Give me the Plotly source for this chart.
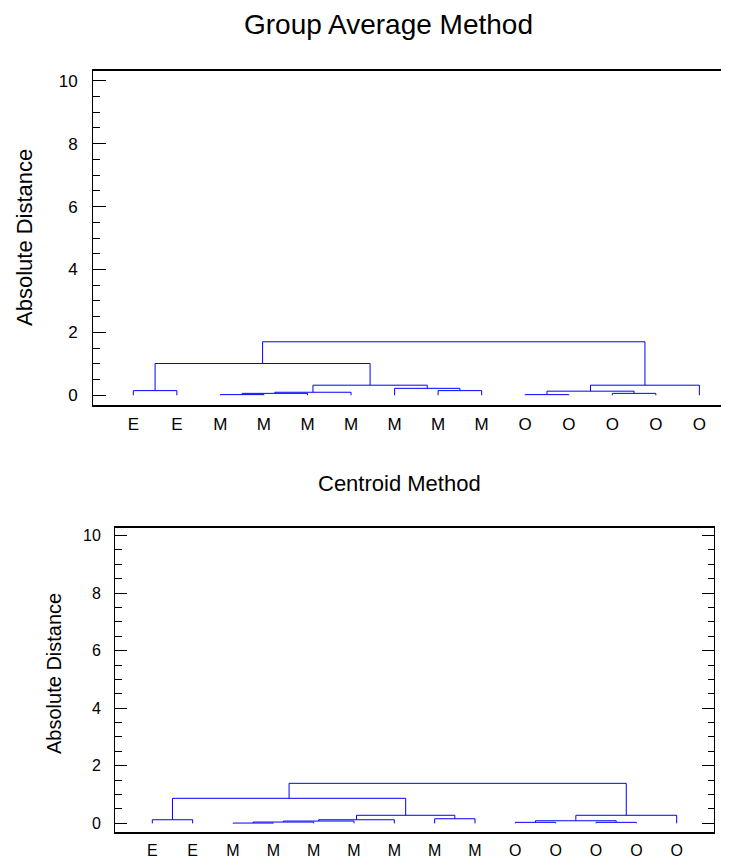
import plotly.graph_objects as go

# The page body has an 8px default margin; the figure is sized/offset for it.
OFF = 8
W, H = 729 - OFF, 859 - OFF

# ---------------- data ----------------
leaf_labels = ["E", "E", "M", "M", "M", "M", "M", "M", "M", "O", "O", "O", "O", "O"]

# linkage rows: (child_a, child_b, height); new cluster ids start at 14
group_avg_a = [2, 9, 14, 11, 16, 15, 0, 7, 6, 18, 19, 20, 25]
group_avg_b = [3, 10, 4, 12, 5, 17, 1, 8, 21, 22, 13, 23, 24]
group_avg_h = [0.02, 0.02, 0.06, 0.06, 0.095, 0.13, 0.147, 0.147, 0.22, 0.32, 0.32, 1.01, 1.70]

centroid_a = [2, 9, 11, 14, 17, 15, 0, 18, 7, 21, 19, 20, 25]
centroid_b = [3, 10, 12, 4, 5, 16, 1, 6, 8, 22, 13, 23, 24]
centroid_h = [0.01, 0.035, 0.035, 0.045, 0.08, 0.09, 0.125, 0.125, 0.16, 0.28, 0.28, 0.87, 1.39]

y_ticks = [0, 2, 4, 6, 8, 10]


def dendro_xy(a_list, b_list, h_list, n):
    pos = {i: float(i + 1) for i in range(n)}
    hgt = {i: 0.0 for i in range(n)}
    xs, ys = [], []
    for k, (a, b, h) in enumerate(zip(a_list, b_list, h_list)):
        xa, xb = pos[a], pos[b]
        xs += [xa, xa, xb, xb, None]
        ys += [hgt[a], h, h, hgt[b], None]
        nid = n + k
        pos[nid] = (xa + xb) / 2
        hgt[nid] = h
    return xs, ys


n = len(leaf_labels)
x1, y1 = dendro_xy(group_avg_a, group_avg_b, group_avg_h, n)
x2, y2 = dendro_xy(centroid_a, centroid_b, centroid_h, n)

FONT = "Arial, Liberation Sans, sans-serif"
BLUE = "#0000FF"

fig = go.Figure()
fig.add_trace(go.Scatter(x=x1, y=y1, mode="lines", line=dict(color=BLUE, width=1),
                         xaxis="x", yaxis="y", hoverinfo="skip", showlegend=False))
fig.add_trace(go.Scatter(x=x2, y=y2, mode="lines", line=dict(color=BLUE, width=1),
                         xaxis="x2", yaxis="y2", hoverinfo="skip", showlegend=False))


def px(x):
    return min(1.0, (x - OFF) / W)


def py(y):
    return 1 - (y - OFF) / H


leaf_pos = [i + 1 for i in range(n)]

common_x = dict(showgrid=False, zeroline=False, showline=True, linecolor="black",
                linewidth=1.5, ticks="", tickvals=leaf_pos, ticktext=leaf_labels,
                fixedrange=True)
common_y = dict(showgrid=False, zeroline=False, showline=True, linecolor="black",
                linewidth=1, tickvals=y_ticks, ticks="inside", tickcolor="black",
                tickwidth=1, fixedrange=True)

fig.update_layout(
    width=W, height=H, autosize=False,
    margin=dict(l=0, r=0, t=0, b=0),
    paper_bgcolor="white", plot_bgcolor="white",
    font=dict(family=FONT, color="black"),
    xaxis=dict(**common_x, domain=[px(93), 1.0], range=[0.074, 14.68], mirror=True,
               anchor="y", tickfont=dict(size=17), ticklabelstandoff=3),
    yaxis=dict(**common_y, domain=[py(405), py(71)], range=[-0.31, 10.31], mirror=False,
               anchor="x", ticklen=13, tickfont=dict(size=17), ticklabelstandoff=11,
               minor=dict(dtick=0.5, tick0=0, ticks="inside", ticklen=7,
                          tickcolor="black", tickwidth=1)),
    xaxis2=dict(**common_x, domain=[px(115), px(714)], range=[0.075, 14.925], mirror=True,
                anchor="y2", tickfont=dict(size=16), ticklabelstandoff=3),
    yaxis2=dict(**common_y, domain=[py(831.7), py(527.7)], range=[-0.29, 10.27],
                mirror="ticks", anchor="x2", ticklen=12, tickfont=dict(size=16),
                ticklabelstandoff=10,
                minor=dict(dtick=0.5, tick0=0, ticks="inside", ticklen=6.5,
                           tickcolor="black", tickwidth=1)),
    annotations=[
        dict(text="Group Average Method", x=px(388), y=1.0, xref="paper", yref="paper",
             xanchor="center", yanchor="top", showarrow=False, borderpad=0,
             font=dict(size=28, family=FONT, color="black")),
        dict(text="Centroid Method", x=px(399), y=py(483), xref="paper", yref="paper",
             xanchor="center", yanchor="middle", showarrow=False,
             font=dict(size=22, family=FONT, color="black")),
        dict(text="Absolute Distance", x=px(24), y=py(238), xref="paper", yref="paper",
             xanchor="center", yanchor="middle", showarrow=False, textangle=-90,
             font=dict(size=22, family=FONT, color="black")),
        dict(text="Absolute Distance", x=px(54), y=py(674), xref="paper", yref="paper",
             xanchor="center", yanchor="middle", showarrow=False, textangle=-90,
             font=dict(size=20, family=FONT, color="black")),
    ],
)

fig.write_html("out.html", config=dict(displayModeBar=False))
